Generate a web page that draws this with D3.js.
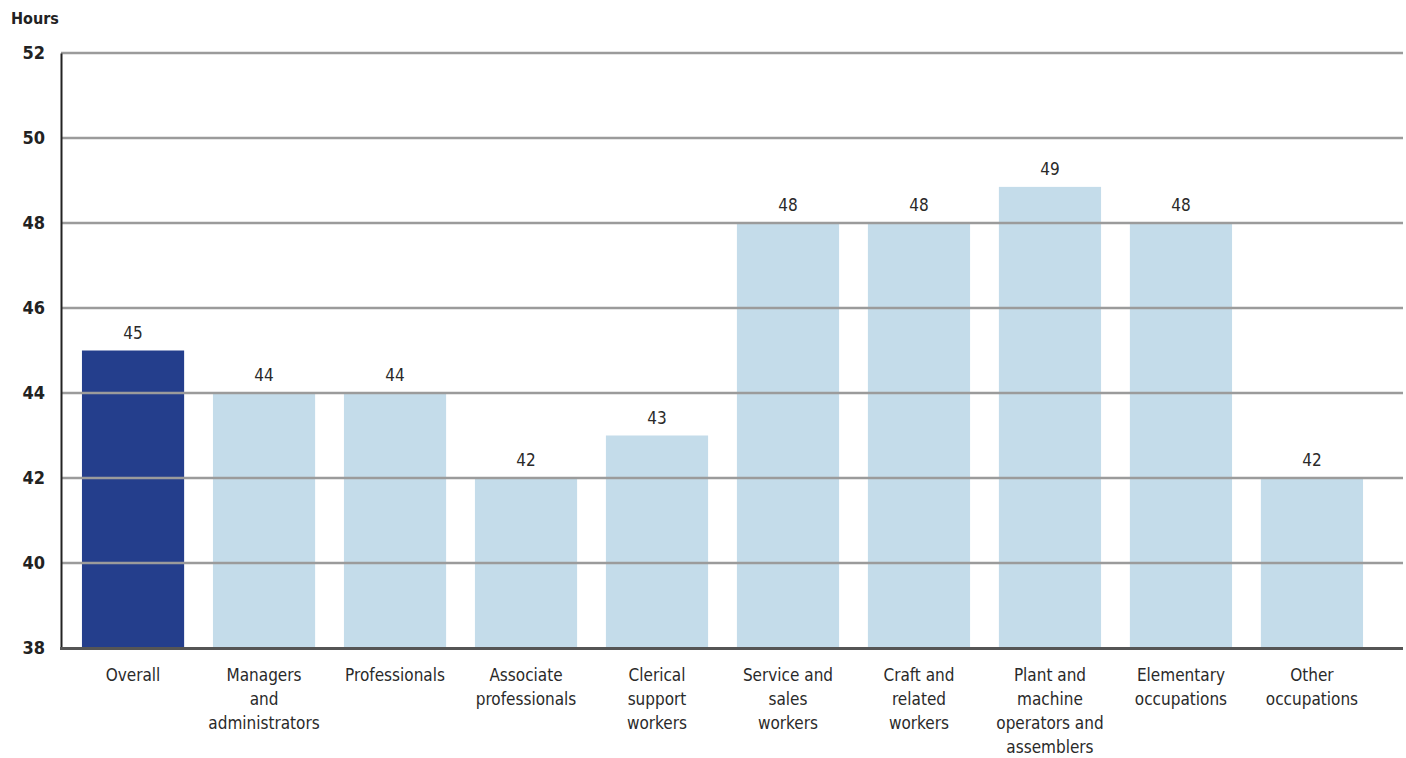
<!DOCTYPE html>
<html>
<head>
<meta charset="utf-8">
<script src="https://cdn.jsdelivr.net/npm/d3@7"></script>
<style>
body { margin: 0; background: #fff; }
text { font-family: "DejaVu Sans Condensed", "DejaVu Sans", sans-serif; font-stretch: condensed; }
</style>
</head>
<body>
<script>
const w = 1406;
const h = 758;

const categories = [
  ["Overall"],
  ["Managers", "and", "administrators"],
  ["Professionals"],
  ["Associate", "professionals"],
  ["Clerical", "support", "workers"],
  ["Service and", "sales", "workers"],
  ["Craft and", "related", "workers"],
  ["Plant and", "machine", "operators and", "assemblers"],
  ["Elementary", "occupations"],
  ["Other", "occupations"]
];
const hours = [45, 44, 44, 42, 43, 48, 48, 48.85, 48, 42];
const valueLabels = ["45", "44", "44", "42", "43", "48", "48", "49", "48", "42"];
const yTicks = [38, 40, 42, 44, 46, 48, 50, 52];

const padLeft = 61, padRight = 1403, padTop = 53, padBottom = 648;

const xScale = d3.scaleBand()
  .domain(d3.range(categories.length))
  .range([padLeft, 1384])
  .paddingInner(0.22)
  .paddingOuter(0.16);

const yScale = d3.scaleLinear()
  .domain([38, 52])
  .range([padBottom, padTop]);

const svg = d3.select("body")
  .append("svg")
  .attr("width", w)
  .attr("height", h);

// bars
svg.selectAll("rect.bar")
  .data(hours)
  .enter()
  .append("rect")
  .attr("class", "bar")
  .attr("x", (d, i) => xScale(i))
  .attr("width", xScale.bandwidth())
  .attr("y", d => yScale(d))
  .attr("height", d => yScale(38) - yScale(d))
  .attr("fill", (d, i) => i === 0 ? "#243e8c" : "#c4dcea");

// gridlines over bars
svg.append("g")
  .selectAll("line")
  .data(yTicks.filter(t => t > 38))
  .enter()
  .append("line")
  .attr("x1", padLeft)
  .attr("x2", padRight)
  .attr("y1", d => yScale(d))
  .attr("y2", d => yScale(d))
  .attr("stroke", "#9b9b9b")
  .attr("stroke-width", 2.5);

// y axis
const yAxis = d3.axisLeft(yScale).tickValues(yTicks).tickSize(0).tickPadding(16);
const gy = svg.append("g")
  .attr("transform", "translate(" + padLeft + ",0)")
  .call(yAxis);
gy.select(".domain").attr("stroke", "#222").attr("stroke-width", 2);
gy.selectAll("text")
  .attr("font-size", 18)
  .attr("font-weight", "bold")
  .attr("fill", "#222")
  .attr("font-family", "DejaVu Sans Condensed, DejaVu Sans, sans-serif");

// bottom axis line
svg.append("line")
  .attr("x1", padLeft - 1)
  .attr("x2", padRight)
  .attr("y1", padBottom + 0.5)
  .attr("y2", padBottom + 0.5)
  .attr("stroke", "#555")
  .attr("stroke-width", 3);

// x labels
const xl = svg.append("g")
  .selectAll("text")
  .data(categories)
  .enter()
  .append("text")
  .attr("x", (d, i) => xScale(i) + xScale.bandwidth() / 2)
  .attr("y", 681)
  .attr("text-anchor", "middle")
  .attr("font-size", 17)
  .attr("fill", "#2a2a2a");
xl.selectAll("tspan")
  .data(d => d)
  .enter()
  .append("tspan")
  .attr("x", function () { return this.parentNode.getAttribute("x"); })
  .attr("dy", (d, i) => i === 0 ? 0 : 24)
  .text(d => d);

// value labels
svg.append("g")
  .selectAll("text")
  .data(hours)
  .enter()
  .append("text")
  .attr("x", (d, i) => xScale(i) + xScale.bandwidth() / 2)
  .attr("y", d => yScale(d) - 12)
  .attr("text-anchor", "middle")
  .attr("font-size", 17)
  .attr("fill", "#2a2a2a")
  .text((d, i) => valueLabels[i]);

// unit label
svg.append("text")
  .attr("x", 11)
  .attr("y", 24)
  .attr("font-size", 16)
  .attr("font-weight", "bold")
  .attr("fill", "#222")
  .text("Hours");
</script>
</body>
</html>
